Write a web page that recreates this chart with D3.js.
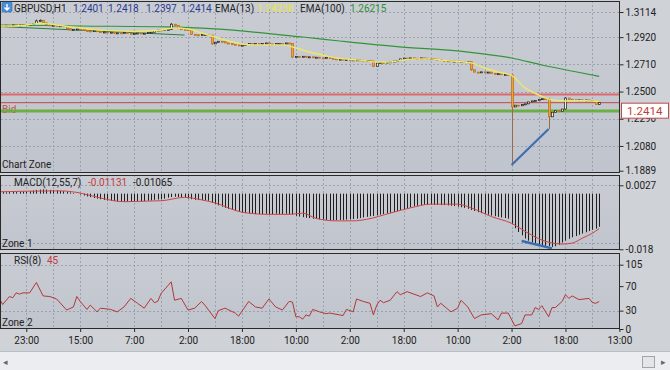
<!DOCTYPE html>
<html><head><meta charset="utf-8">
<script src="https://cdn.jsdelivr.net/npm/d3@7"></script>
<style>
body{margin:0;background:#cfd2d7;}
svg{display:block}
text{font-family:Roboto,"Liberation Sans",sans-serif;}
</style>
</head><body>
<svg id="c" width="670" height="370"></svg>
<script>
// ---------------- DATA ----------------
const symbol = "GBPUSD,H1";
const ohlcHeader = ["1.2401","1.2418","1.2397","1.2414"];
const ema13Label = "EMA(13)", ema13Value = "1.24238";
const ema100Label = "EMA(100)", ema100Value = "1.26215";
const macdLabel = "MACD(12,55,7)", macdValues = ["-0.01131","-0.01065"];
const rsiLabel = "RSI(8)", rsiValue = "45";
const lastPrice = 1.2414;
const firstOpen = 1.3005;

// hourly closes (179 bars)
const closes = [
1.3010,1.3005,1.3012,1.3008,1.3015,1.3010,
1.3015,1.3018,1.3012,1.3020,1.3025,
1.3045,1.3050,1.3030,
1.3015,1.3010,1.3012,1.3005,1.3008,1.3000,
1.2985,1.2975,
1.2980,1.2983,1.2978,
1.2972,1.2968,1.2965,1.2970,1.2962,1.2958,
1.2960,1.2955,1.2958,1.2950,1.2953,1.2948,1.2955,1.2950,1.2945,1.2948,1.2952,1.2947,1.2950,1.2955,1.2958,
1.2970,1.2975,1.2972,1.2978,1.2980,
1.3020,1.3010,
1.2985,1.2980,1.2978,1.2975,
1.2940,1.2938,1.2935,1.2940,1.2940,1.2935,
1.2868,
1.2880,1.2888,1.2885,
1.2875,1.2870,1.2865,1.2860,1.2855,1.2858,
1.2865,1.2870,1.2868,1.2872,1.2866,1.2870,1.2875,1.2868,1.2865,1.2870,1.2872,1.2868,1.2875,1.2870,
1.2766,
1.2770,1.2768,1.2772,1.2765,1.2768,1.2762,1.2765,1.2760,1.2758,1.2762,1.2757,
1.2752,1.2748,1.2750,1.2745,1.2748,1.2743,1.2740,1.2745,1.2742,1.2738,1.2740,1.2735,
1.2695,
1.2720,1.2725,1.2722,1.2728,1.2730,1.2735,1.2738,
1.2752,1.2758,1.2755,1.2760,1.2757,1.2755,1.2760,1.2758,1.2752,1.2755,1.2750,1.2748,
1.2740,1.2735,1.2738,1.2732,1.2735,1.2730,1.2733,1.2728,1.2730,
1.2668,
1.2650,1.2648,1.2652,1.2645,1.2650,
1.2640,1.2635,1.2638,1.2630,1.2632,1.2628,
1.2381,
1.2395,1.2390,1.2400,1.2405,
1.2420,1.2428,1.2432,1.2438,1.2445,1.2442,
1.2305,
1.2340,1.2352,1.2348,1.2365,
1.2450,
1.2440,1.2438,1.2435,1.2437,1.2433,1.2435,1.2430,
1.2425,1.2401,1.2414
];
// notable wicks: [bar, high, low]
const wicks = [[11,1.3056,1.3025],[12,1.3058,1.3040],[51,1.3030,1.2975],[63,1.2938,1.2862],
  [87,1.2872,1.2760],[111,1.2738,1.2690],[140,1.2733,1.2660],[152,1.2632,1.1933],
  [163,1.2448,1.2211],[168,1.2458,1.2362],[178,1.2418,1.2397]];

// EMA(13) samples [bar, value]
const ema13 = [[0,1.3006],[4,1.3006],[8,1.3014],[12,1.3026],[16,1.3018],[20,1.3002],[24,1.2991],[28,1.2979],
 [32,1.2972],[36,1.2968],[40,1.2964],[44,1.2968],[48,1.2975],[52,1.2991],[56,1.2983],[60,1.2952],[64,1.2921],
 [68,1.2890],[72,1.2867],[76,1.2860],[80,1.2860],[84,1.2860],[88,1.2836],[92,1.2805],[96,1.2782],[100,1.2759],
 [104,1.2748],[108,1.2740],[112,1.2728],[116,1.2728],[120,1.2744],[124,1.2752],[128,1.2752],[132,1.2740],
 [136,1.2732],[140,1.2721],[144,1.2682],[148,1.2651],[152,1.2625],[156,1.2528],[160,1.2474],[164,1.2435],
 [168,1.2427],[172,1.2431],[176,1.2427],[178,1.2424]];
// EMA(100) samples [bar, value]
const ema100 = [[0,1.3014],[24,1.3006],[50,1.2999],[64,1.2983],[90,1.2921],[101,1.2890],[118,1.2846],
 [138,1.2808],[152,1.2759],[161,1.2705],[171,1.2653],[178,1.2617]];
// drawn objects
const trendGreen = [[0,1.3002],[55,1.2936]];
const trendBlue = [[152,1.1933],[163,1.2211]];
const levelRed1 = 1.2478, levelRed2 = 1.2414, levelGreen = 1.2350;

// MACD histogram (179 bars)
const macdHist = [
0.0004,0.0005,0.0004,0.0005,0.0006,0.0005,0.0006,0.0007,0.0006,0.0008,
0.0010,0.0012,0.0013,0.0014,0.0013,0.0012,0.0012,0.0011,
0.0009,0.0008,0.0006,0.0004,0.0002,0.0000,
-0.0003,-0.0006,-0.0009,-0.0011,-0.0014,-0.0016,
-0.0018,-0.0020,-0.0022,-0.0023,-0.0024,-0.0025,-0.0025,-0.0026,-0.0025,-0.0026,-0.0025,-0.0024,-0.0025,-0.0024,-0.0023,
-0.0022,-0.0020,-0.0019,-0.0018,-0.0016,
-0.0013,-0.0011,-0.0010,-0.0011,-0.0012,-0.0013,
-0.0016,-0.0018,-0.0020,-0.0021,-0.0021,-0.0022,-0.0023,
-0.0030,-0.0034,-0.0038,-0.0042,-0.0046,-0.0049,-0.0052,-0.0055,-0.0058,-0.0061,
-0.0063,-0.0064,-0.0065,-0.0066,-0.0066,-0.0066,-0.0065,-0.0066,-0.0066,-0.0065,-0.0066,-0.0066,-0.0065,-0.0066,-0.0068,
-0.0072,-0.0074,-0.0076,-0.0078,-0.0079,-0.0081,-0.0082,-0.0083,
-0.0084,-0.0085,-0.0086,-0.0086,-0.0086,-0.0085,-0.0085,-0.0084,-0.0083,-0.0082,
-0.0081,-0.0079,-0.0077,-0.0075,-0.0073,-0.0072,-0.0070,-0.0068,-0.0066,-0.0064,
-0.0062,-0.0059,-0.0056,-0.0053,-0.0050,-0.0047,-0.0044,-0.0041,
-0.0039,-0.0037,-0.0036,-0.0036,-0.0035,-0.0036,-0.0036,-0.0037,-0.0037,-0.0038,-0.0039,-0.0040,
-0.0042,-0.0044,-0.0046,-0.0049,-0.0053,-0.0056,
-0.0060,-0.0063,-0.0066,-0.0068,-0.0071,-0.0073,-0.0075,-0.0077,-0.0079,-0.0081,
-0.0098,-0.0112,-0.0124,-0.0135,-0.0145,-0.0152,-0.0158,-0.0162,
-0.0165,-0.0167,-0.0169,-0.0170,-0.0172,-0.0170,
-0.0165,-0.0158,-0.0152,-0.0146,-0.0141,-0.0137,-0.0133,
-0.0129,-0.0125,-0.0121,-0.0117,-0.0113,-0.0107
];
// MACD signal samples [bar, value]
const macdSignal = [[0,0.0006],[18,0.0009],[24,0.0002],[30,-0.0014],[37,-0.0026],[44,-0.0024],[48,-0.0023],
 [55,-0.0012],[60,-0.0020],[64,-0.0030],[72,-0.0060],[80,-0.0067],[86,-0.0067],[90,-0.0063],[94,-0.0080],
 [100,-0.0088],[105,-0.0088],[109,-0.0083],[116,-0.0063],[122,-0.0046],[128,-0.0034],[136,-0.0034],
 [140,-0.0046],[146,-0.0074],[152,-0.0096],[157,-0.0128],[161,-0.0150],[167,-0.0163],[170,-0.0160],
 [173,-0.0144],[176,-0.0128],[178,-0.0113]];
const macdBlue = [[155,-0.0153],[164,-0.0177]];

// RSI(8) [bar, value]
const rsi = [[0,50],[1,40],[3,53],[4,51],[5,59],[6,57],[7,59],[9,59],[11,76],[13,54],[15,53],[17,49],[20,31],
 [22,36],[23,53],[24,45],[26,32],[27,39],[29,28],[30,34],[33,32],[35,28],[37,36],[39,50],[41,42],[43,34],[45,50],
 [46,43],[47,45],[48,58],[51,77],[52,47],[54,50],[56,31],[58,34],[60,45],[61,39],[64,17],[65,30],[67,34],[70,26],
 [71,21],[74,45],[76,36],[78,34],[80,49],[82,36],[84,31],[86,45],[87,44],[88,20],[89,20],[90,16],[91,23],[92,21],
 [93,32],[95,28],[97,25],[98,26],[101,23],[102,22],[103,32],[105,28],[106,49],[108,45],[110,42],[111,23],[112,39],
 [113,47],[114,43],[116,47],[118,61],[119,56],[121,61],[125,53],[127,59],[129,54],[130,36],[131,42],[134,28],
 [136,34],[137,47],[139,36],[141,17],[143,23],[146,25],[148,15],[149,26],[151,26],[153,5],[155,9],[156,23],
 [158,23],[159,35],[160,32],[161,38],[163,20],[164,35],[165,35],[167,45],[168,56],[169,50],[170,54],[172,48],
 [175,50],[176,43],[177,42],[178,45]];

// axes
const priceTicks = [1.3114,1.2920,1.2710,1.2500,1.2290,1.2080,1.1889];
const macdTicks = [0.0027,-0.018], macdTickLabels = ["0.0027","-0.018"];
const rsiTicks = [105,70,30,0];
const timeTickBars = [8,24,40,56,72,88,104,120,136,152,168,184];
const timeTickLabels = ["23:00","15:00","7:00","2:00","18:00","10:00","2:00","18:00","10:00","2:00","18:00","13:00"];

// ---------------- CHART ----------------
const svg = d3.select("#c");
const W = 670, H = 370, R = 619;
const P = {main:[1,173], macd:[175,250], rsi:[253,329]};
const FS = 10;

const x = d3.scaleLinear().domain([0,184]).range([-0.7,619.4]);
const yP = d3.scaleLinear().domain([1.1889,1.3114]).range([170.7,12]);
const yM = d3.scaleLinear().domain([-0.018,0.0027]).range([249.3,185.3]);
const yR = d3.scaleLinear().domain([0,105]).range([329,264.7]);

svg.append("rect").attr("width",W).attr("height",H).attr("fill","#cfd2d7");
// bottom strip
svg.append("rect").attr("x",0).attr("y",351).attr("width",W).attr("height",19).attr("fill","#ecedf0");
svg.append("line").attr("x1",0).attr("x2",W).attr("y1",351.5).attr("y2",351.5).attr("stroke","#b9bdc5");
svg.append("text").attr("x",3).attr("y",365).attr("font-size",9).attr("fill","#666").text("◂");
svg.append("text").attr("x",661).attr("y",365).attr("font-size",9).attr("fill","#666").text("▸");
svg.append("rect").attr("x",642.5).attr("y",356.5).attr("width",12).attr("height",11).attr("fill","#e4e5e8").attr("stroke","#a0a4ab");

const defs = svg.append("defs");
const grad = defs.append("linearGradient").attr("id","pbg").attr("x1",0).attr("x2",0).attr("y1",0).attr("y2",1);
grad.append("stop").attr("offset","0%").attr("stop-color","#c9ccd3");
grad.append("stop").attr("offset","100%").attr("stop-color","#c0c4cc");

Object.entries(P).forEach(([k,[t,b]])=>{
  svg.append("rect").attr("x",0).attr("y",t).attr("width",R).attr("height",b-t).attr("fill","url(#pbg)");
  defs.append("clipPath").attr("id","clip-"+k).append("rect").attr("x",1).attr("y",t).attr("width",R-1).attr("height",b-t);
});

// vertical grid
const gridBars = d3.range(0,184,8).slice(1);
Object.entries(P).forEach(([k,[t,b]])=>{
  svg.append("g").selectAll("line").data(gridBars).join("line")
    .attr("x1",d=>Math.round(x(d))+0.5).attr("x2",d=>Math.round(x(d))+0.5)
    .attr("y1",t).attr("y2",b).attr("stroke","#8e99ab").attr("stroke-dasharray","2,2").attr("stroke-width",0.8);
});
// horizontal grids
function hgrid(vals, sc){
  svg.append("g").selectAll("line").data(vals).join("line")
    .attr("x1",1).attr("x2",R).attr("y1",d=>Math.round(sc(d))+0.5).attr("y2",d=>Math.round(sc(d))+0.5)
    .attr("stroke","#8e99ab").attr("stroke-dasharray","2,2").attr("stroke-width",0.8);
}
hgrid(priceTicks.slice(0,6), yP);
hgrid([0.0027,-0.0159], yM);
hgrid([105,30], yR);

// ---- main panel ----
const gMain = svg.append("g").attr("clip-path","url(#clip-main)");
gMain.append("line").attr("x1",0).attr("x2",R).attr("y1",yP(levelRed1)).attr("y2",yP(levelRed1)).attr("stroke","#e06868").attr("stroke-width",2);
gMain.append("line").attr("x1",0).attr("x2",R).attr("y1",yP(levelRed2)).attr("y2",yP(levelRed2)).attr("stroke","#c24848").attr("stroke-width",1);
gMain.append("text").attr("x",2).attr("y",yP(levelGreen)+2).attr("font-size",FS).attr("fill","#c65050").text("Bid");
gMain.append("line").attr("x1",0).attr("x2",R).attr("y1",yP(levelGreen)).attr("y2",yP(levelGreen)).attr("stroke","#6aae3e").attr("stroke-width",3.2).attr("opacity",0.95);

const lineP = d3.line().x(d=>x(d[0])).y(d=>yP(d[1]));
gMain.append("path").attr("d",lineP(trendGreen)).attr("fill","none").attr("stroke","#2e7d3a").attr("stroke-width",1);
gMain.append("path").attr("d",d3.line().x(d=>x(d[0])).y(d=>yP(d[1])).curve(d3.curveMonotoneX)(ema100)).attr("fill","none").attr("stroke","#33953a").attr("stroke-width",1.2);

// candles
const wickMap = new Map(wicks.map(w=>[w[0],w]));
const candles = closes.map((c,i)=>{
  const o = i ? closes[i-1] : firstOpen;
  const w = wickMap.get(i);
  return {i, o, c, h: w ? w[1] : Math.max(o,c), l: w ? w[2] : Math.min(o,c)};
});
const cg = gMain.append("g");
cg.selectAll("line").data(candles).join("line")
  .attr("x1",d=>Math.round(x(d.i))+0.5).attr("x2",d=>Math.round(x(d.i))+0.5)
  .attr("y1",d=>yP(d.h)).attr("y2",d=>yP(d.l))
  .attr("stroke",d=>d.c<d.o ? "#9c6a48" : "#555").attr("stroke-width",1);
cg.selectAll("rect").data(candles).join("rect")
  .attr("x",d=>Math.round(x(d.i))-0.5).attr("width",2)
  .attr("y",d=>yP(Math.max(d.o,d.c))).attr("height",d=>Math.max(1,Math.abs(yP(d.o)-yP(d.c))))
  .attr("fill",d=>d.c<d.o ? "#f0a232" : "#f2efe2")
  .attr("stroke",d=>d.c<d.o ? "#b86a1c" : "#1a1a1a").attr("stroke-width",0.7);

gMain.append("path").attr("d",d3.line().x(d=>x(d[0])).y(d=>yP(d[1])).curve(d3.curveMonotoneX)(ema13)).attr("fill","none").attr("stroke","#ece86a").attr("stroke-width",1.4);
gMain.append("path").attr("d",lineP(trendBlue)).attr("fill","none").attr("stroke","#3f6fb2").attr("stroke-width",2.2);

// ---- MACD ----
const gM = svg.append("g").attr("clip-path","url(#clip-macd)");
gM.selectAll("line").data(macdHist).join("line")
  .attr("x1",(d,i)=>Math.round(x(i))+0.5).attr("x2",(d,i)=>Math.round(x(i))+0.5)
  .attr("y1",yM(0)).attr("y2",d=>yM(d)).attr("stroke","#1e1e1e").attr("stroke-width",1);
gM.append("path").attr("d",d3.line().x(d=>x(d[0])).y(d=>yM(d[1])).curve(d3.curveMonotoneX)(macdSignal)).attr("fill","none").attr("stroke","#cc4444").attr("stroke-width",1);
gM.append("path").attr("d",d3.line().x(d=>x(d[0])).y(d=>yM(d[1]))(macdBlue)).attr("fill","none").attr("stroke","#3a6db0").attr("stroke-width",2.5);

// ---- RSI ----
const gR = svg.append("g").attr("clip-path","url(#clip-rsi)");
gR.append("path").attr("d",d3.line().x(d=>x(d[0])).y(d=>yR(d[1]))(rsi)).attr("fill","none").attr("stroke","#b33838").attr("stroke-width",1);

// frames
Object.values(P).forEach(([t,b])=>{
  svg.append("line").attr("x1",0).attr("x2",R).attr("y1",t+0.5).attr("y2",t+0.5).attr("stroke","#2a2a2a");
  svg.append("line").attr("x1",0).attr("x2",R).attr("y1",b-0.5).attr("y2",b-0.5).attr("stroke","#2a2a2a");
  svg.append("line").attr("x1",0.5).attr("x2",0.5).attr("y1",t).attr("y2",b).attr("stroke","#2a2a2a");
});

// axes
function styleAxis(g){
  g.selectAll("path.domain").attr("stroke","#2a2a2a");
  g.selectAll(".tick line").attr("stroke","#2a2a2a");
  g.selectAll("text").attr("font-size",FS).attr("fill","#222").attr("font-family","Roboto,'Liberation Sans',sans-serif");
}
const aP = svg.append("g").attr("transform",`translate(${R+0.5},0)`)
  .call(d3.axisRight(yP).tickValues(priceTicks).tickFormat(d3.format(".4f")).tickSize(4).tickSizeOuter(0).tickPadding(2));
styleAxis(aP);
aP.select("path.domain").attr("d",`M0,${P.main[0]}V${P.main[1]}`);
const aM = svg.append("g").attr("transform",`translate(${R+0.5},0)`)
  .call(d3.axisRight(yM).tickValues(macdTicks).tickFormat((d,i)=>macdTickLabels[i]).tickSize(4).tickSizeOuter(0).tickPadding(2));
styleAxis(aM);
aM.select("path.domain").attr("d",`M0,${P.macd[0]}V${P.macd[1]}`);
const aR = svg.append("g").attr("transform",`translate(${R+0.5},0)`)
  .call(d3.axisRight(yR).tickValues(rsiTicks).tickFormat(d3.format("d")).tickSize(4).tickSizeOuter(0).tickPadding(2));
styleAxis(aR);
aR.select("path.domain").attr("d",`M0,${P.rsi[0]}V${P.rsi[1]}`);
const aT = svg.append("g").attr("transform",`translate(0,${P.rsi[1]})`)
  .call(d3.axisBottom(x).tickValues(timeTickBars).tickFormat((d,i)=>timeTickLabels[i]).tickSize(3).tickSizeOuter(0).tickPadding(5));
styleAxis(aT);
aT.select("path.domain").remove();

// last price label
const ly = yP(lastPrice);
svg.append("rect").attr("x",621.5).attr("y",ly+0.5).attr("width",47).attr("height",15).attr("fill","#ffffff").attr("stroke","#c44a4a");
svg.append("text").attr("x",627).attr("y",ly+12).attr("font-size",11.5).attr("fill","#c43c3c").text(lastPrice.toFixed(4));

// header
const hdr = svg.append("g").attr("font-size",FS);
hdr.append("rect").attr("x",2).attr("y",2).attr("width",10).attr("height",10).attr("rx",1.5).attr("fill","#4a8fd6").attr("stroke","#2f6aa8").attr("stroke-width",0.6);
hdr.append("path").attr("d","M7,4V10M4.5,7.5L7,10L9.5,7.5").attr("stroke","#fff").attr("stroke-width",1.4).attr("fill","none");
const hItems = [
  [14,symbol,"#222"],[73,ohlcHeader[0],"#2b3a8f"],[108,ohlcHeader[1],"#2b3a8f"],[146,ohlcHeader[2],"#2b3a8f"],[181,ohlcHeader[3],"#2b3a8f"],
  [215,ema13Label,"#222"],[257,ema13Value,"#e9e44a"],[300,ema100Label,"#222"],[350,ema100Value,"#2f8f38"]
];
hdr.selectAll("text").data(hItems).join("text").attr("x",d=>d[0]).attr("y",12).attr("fill",d=>d[2]).text(d=>d[1]);

// sub-panel headers
svg.append("text").attr("x",14).attr("y",186).attr("font-size",FS).attr("fill","#222").text(macdLabel);
svg.append("text").attr("x",88).attr("y",186).attr("font-size",FS).attr("fill","#c43c3c").text(macdValues[0]);
svg.append("text").attr("x",133).attr("y",186).attr("font-size",FS).attr("fill","#222").text(macdValues[1]);
svg.append("text").attr("x",14).attr("y",264).attr("font-size",FS).attr("fill","#222").text(rsiLabel);
svg.append("text").attr("x",47).attr("y",264).attr("font-size",FS).attr("fill","#c43c3c").text(rsiValue);
// zone labels
svg.append("text").attr("x",2).attr("y",168).attr("font-size",FS).attr("fill","#222").text("Chart Zone");
svg.append("text").attr("x",2).attr("y",247).attr("font-size",FS).attr("fill","#222").text("Zone 1");
svg.append("text").attr("x",2).attr("y",326).attr("font-size",FS).attr("fill","#222").text("Zone 2");
</script>
</body></html>
